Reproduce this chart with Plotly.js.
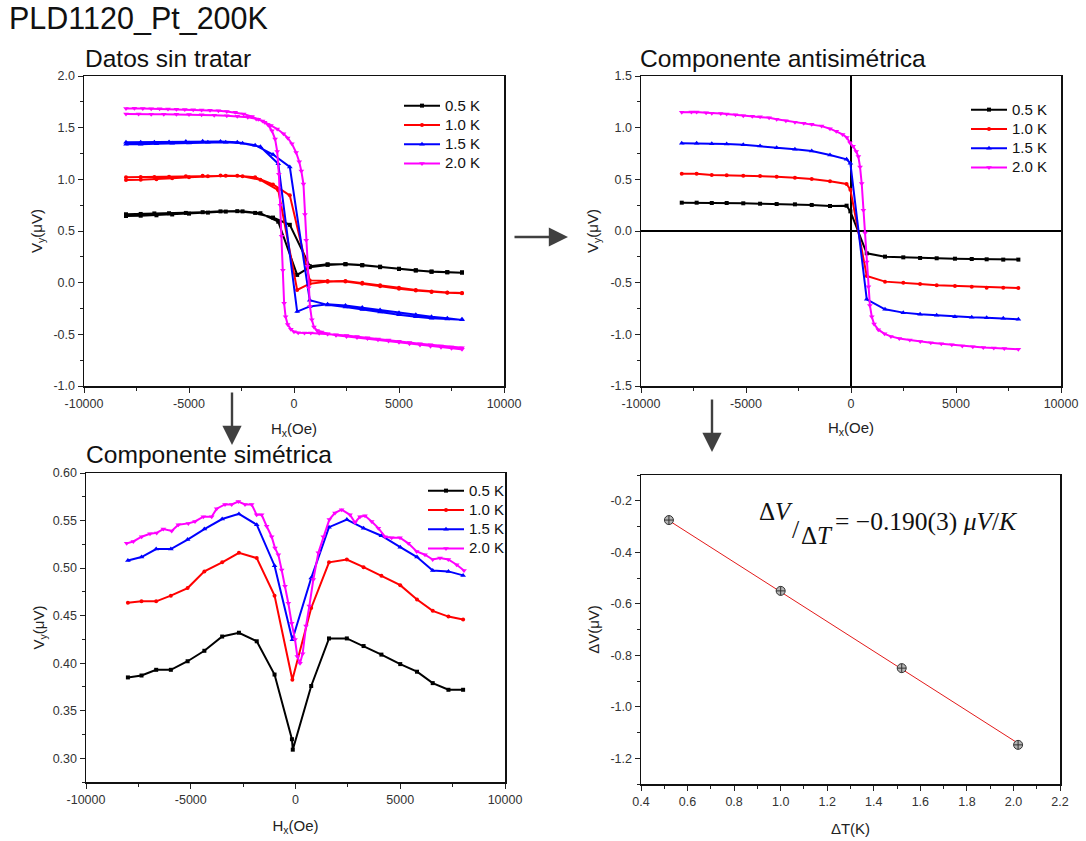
<!DOCTYPE html>
<html><head><meta charset="utf-8">
<script src="https://cdn.plot.ly/plotly-3.0.1.min.js"></script>
<style>html,body{margin:0;padding:0;background:#fff}#c{width:1086px;height:841px}</style>
</head><body><div id="c"></div>
<script>
// ---------- Data ----------
const seriesNames = ['0.5 K','1.0 K','1.5 K','2.0 K'];
// Raw data (Datos sin tratar): up sweep and down sweep
const rawUpX   = [-8000,-7300,-6650,-5950,-5150,-4350,-3500,-2700,-1850,-1000,-200,750,1600,2450,3250,4100,5000,5800,6550,7300,8000];
const rawDownX = [8000,7300,6550,5800,5000,4100,3250,2450,1600,750,150,-750,-1600,-2450,-3250,-4100,-5000,-5800,-6550,-7300,-8000];
const rawBlackUp   = [0.662,0.665,0.670,0.672,0.675,0.682,0.690,0.692,0.675,0.630,0.560,0.160,0.178,0.178,0.168,0.150,0.132,0.120,0.105,0.100,0.097];
const rawBlackDown = [0.100,0.102,0.108,0.118,0.135,0.155,0.170,0.180,0.172,0.150,0.075,0.590,0.672,0.690,0.688,0.678,0.668,0.660,0.652,0.648,0.645];
const rawRedUp     = [1.020,1.022,1.022,1.025,1.030,1.035,1.038,1.035,1.020,0.950,0.845,0.022,0.015,0.012,-0.010,-0.035,-0.060,-0.075,-0.090,-0.098,-0.103];
const rawRedDown   = [-0.100,-0.095,-0.085,-0.070,-0.050,-0.025,0.000,0.015,0.010,-0.010,-0.070,0.895,0.995,1.030,1.035,1.030,1.020,1.010,1.000,0.995,0.994];
const rawBlueUp    = [1.358,1.360,1.360,1.362,1.365,1.368,1.365,1.360,1.330,1.240,1.120,-0.170,-0.215,-0.235,-0.260,-0.285,-0.310,-0.330,-0.345,-0.352,-0.360];
const rawBlueDown  = [-0.355,-0.345,-0.330,-0.310,-0.290,-0.265,-0.240,-0.220,-0.210,-0.230,-0.280,1.150,1.315,1.350,1.360,1.358,1.352,1.348,1.345,1.340,1.339];
const rawMagUpX = [-8000,-7600,-7200,-6800,-6400,-6000,-5600,-5200,-4800,-4400,-4000,-3600,-3200,-2800,-2400,-2000,-1700,-1400,-1100,-800,-500,-300,-100,100,250,350,450,520,580,640,700,760,850,950,1100,1300,1600,2000,2500,3000,3500,4000,4500,5000,5500,6000,6500,7000,7500,8000];
const rawMagUpY = [1.685,1.688,1.686,1.684,1.682,1.680,1.678,1.676,1.674,1.671,1.668,1.664,1.657,1.648,1.632,1.607,1.582,1.553,1.522,1.487,1.442,1.400,1.345,1.260,1.170,1.080,0.955,0.660,0.410,0.160,-0.050,-0.230,-0.360,-0.430,-0.462,-0.478,-0.495,-0.508,-0.520,-0.530,-0.540,-0.553,-0.565,-0.577,-0.590,-0.603,-0.615,-0.625,-0.635,-0.645];
const rawMagDownX = [8000,7500,7000,6500,6000,5500,5000,4500,4000,3500,3000,2500,2000,1600,1200,800,500,200,0,-150,-300,-400,-470,-530,-590,-650,-720,-800,-900,-1050,-1250,-1500,-1800,-2200,-2700,-3200,-3800,-4400,-5000,-5600,-6200,-6800,-7400,-8000];
const rawMagDownY = [-0.630,-0.622,-0.612,-0.600,-0.590,-0.578,-0.566,-0.555,-0.545,-0.534,-0.522,-0.512,-0.503,-0.497,-0.490,-0.488,-0.487,-0.485,-0.475,-0.450,-0.405,-0.330,-0.200,0.120,0.450,0.750,1.050,1.270,1.390,1.470,1.530,1.565,1.585,1.600,1.610,1.615,1.620,1.624,1.627,1.629,1.630,1.631,1.632,1.632];

// Antisymmetric component
const antiX = [-8060,-7350,-6630,-5920,-5130,-4330,-3540,-2670,-1870,-1000,-210,-30,750,1620,2490,3290,4080,4950,5750,6460,7250,7970];
const antiBlack = [0.274,0.274,0.271,0.271,0.268,0.264,0.261,0.258,0.252,0.242,0.245,0.190,-0.216,-0.248,-0.255,-0.261,-0.264,-0.268,-0.271,-0.274,-0.277,-0.277];
const antiRed   = [0.555,0.555,0.542,0.539,0.535,0.532,0.526,0.516,0.503,0.481,0.455,0.400,-0.435,-0.490,-0.500,-0.513,-0.526,-0.532,-0.539,-0.548,-0.548,-0.552];
const antiBlue  = [0.848,0.848,0.845,0.842,0.835,0.823,0.806,0.790,0.774,0.735,0.694,0.655,-0.661,-0.758,-0.790,-0.806,-0.816,-0.829,-0.835,-0.839,-0.845,-0.855];
const antiMagX = [-8060,-7600,-7350,-6900,-6630,-6200,-5920,-5500,-5130,-4700,-4330,-3900,-3540,-3100,-2670,-2250,-1870,-1400,-1000,-700,-400,-200,-50,100,250,350,430,510,590,670,750,830,900,990,1100,1300,1600,1900,2300,2800,3300,3800,4300,4800,5300,5800,6300,6800,7300,7970];
const antiMagY = [1.148,1.152,1.152,1.145,1.139,1.136,1.132,1.124,1.116,1.110,1.106,1.095,1.081,1.068,1.052,1.042,1.032,1.015,0.990,0.965,0.935,0.905,0.855,0.820,0.770,0.720,0.620,0.460,0.200,-0.020,-0.300,-0.540,-0.720,-0.830,-0.900,-0.955,-0.995,-1.020,-1.040,-1.055,-1.070,-1.082,-1.092,-1.102,-1.112,-1.120,-1.127,-1.133,-1.138,-1.145];

// Symmetric component
const symBlackX = [-8000,-7350,-6650,-5950,-5150,-4350,-3500,-2700,-1850,-1000,-170,-130,750,1600,2450,3250,4100,5000,5800,6550,7300,8000];
const symBlack  = [0.385,0.387,0.393,0.393,0.402,0.413,0.428,0.432,0.423,0.388,0.320,0.309,0.376,0.426,0.426,0.418,0.409,0.399,0.391,0.379,0.372,0.372];
const symX = [-8000,-7350,-6650,-5950,-5150,-4350,-3500,-2700,-1850,-1000,-150,750,1600,2450,3250,4100,5000,5800,6550,7300,8000];
const symRed  = [0.4635,0.465,0.465,0.471,0.479,0.4965,0.506,0.516,0.5105,0.471,0.3825,0.458,0.506,0.509,0.501,0.492,0.482,0.467,0.455,0.449,0.446];
const symBlue = [0.508,0.5116,0.520,0.520,0.530,0.541,0.5516,0.557,0.5456,0.5025,0.4246,0.4895,0.543,0.551,0.542,0.534,0.522,0.5116,0.4975,0.4965,0.4923];
const symMagX = [-8058,-7740,-7343,-6945,-6626,-6308,-5910,-5592,-5115,-4797,-4399,-4001,-3763,-3365,-3047,-2728,-2410,-2092,-1854,-1615,-1376,-1137,-978,-819,-660,-501,-342,-183,-24,88,215,342,501,660,851,1090,1328,1615,1885,2203,2601,2840,3079,3317,3635,3954,4272,4590,4988,5386,5784,6181,6547,6897,7295,7692,8042];
const symMag  = [0.526,0.528,0.533,0.536,0.537,0.541,0.539,0.5456,0.547,0.549,0.554,0.554,0.5625,0.567,0.567,0.570,0.567,0.567,0.556,0.556,0.544,0.533,0.521,0.514,0.498,0.481,0.463,0.442,0.425,0.407,0.400,0.410,0.439,0.460,0.488,0.516,0.533,0.551,0.558,0.5614,0.556,0.548,0.554,0.555,0.549,0.542,0.533,0.532,0.532,0.526,0.5175,0.514,0.509,0.5105,0.509,0.5035,0.4975];

// Delta V vs Delta T
const dT = [0.52, 1.00, 1.52, 2.02];
const dV = [-0.275, -0.550, -0.850, -1.148];
const fitT = [0.52, 2.02];
const fitV = [-0.277, -1.142];

// Tick values and labels
const hTicks = [-10000, -5000, 0, 5000, 10000];
const hTickText = ['-10000', '-5000', '0', '5000', '10000'];
const rawVTicks = [-1, -0.5, 0, 0.5, 1, 1.5, 2];
const rawVTickText = ['-1.0', '-0.5', '0.0', '0.5', '1.0', '1.5', '2.0'];
const antiVTicks = [-1.5, -1, -0.5, 0, 0.5, 1, 1.5];
const antiVTickText = ['-1.5', '-1.0', '-0.5', '0.0', '0.5', '1.0', '1.5'];
const symVTicks = [0.30, 0.35, 0.40, 0.45, 0.50, 0.55, 0.60];
const symVTickText = ['0.30', '0.35', '0.40', '0.45', '0.50', '0.55', '0.60'];
const dTTicks = [0.4, 0.6, 0.8, 1.0, 1.2, 1.4, 1.6, 1.8, 2.0, 2.2];
const dTTickText = ['0.4', '0.6', '0.8', '1.0', '1.2', '1.4', '1.6', '1.8', '2.0', '2.2'];
const dVTicks = [-1.2, -1.0, -0.8, -0.6, -0.4, -0.2];
const dVTickText = ['-1.2', '-1.0', '-0.8', '-0.6', '-0.4', '-0.2'];

// ---------- Styles ----------
const F = '"Liberation Sans", Arial, sans-serif';
const colors = ['#000000','#ff0000','#0000ff','#ff00ff'];
const symbols = ['square','circle','triangle-up','triangle-down'];
const msize = [4,4,5,5];

function tr(x, y, i, xa, ya, leg) {
  return {x: x, y: y, type: 'scatter', mode: 'lines+markers',
    name: '<span style="font-size:15px">' + seriesNames[i] + '</span>',
    xaxis: xa, yaxis: ya, legend: leg, showlegend: true,
    line: {color: colors[i], width: 2},
    marker: {color: colors[i], symbol: symbols[i], size: msize[i]}};
}
const traces = [
  tr(rawUpX.concat(rawDownX), rawBlackUp.concat(rawBlackDown), 0, 'x', 'y', 'legend'),
  tr(rawUpX.concat(rawDownX), rawRedUp.concat(rawRedDown), 1, 'x', 'y', 'legend'),
  tr(rawUpX.concat(rawDownX), rawBlueUp.concat(rawBlueDown), 2, 'x', 'y', 'legend'),
  tr(rawMagUpX.concat(rawMagDownX), rawMagUpY.concat(rawMagDownY), 3, 'x', 'y', 'legend'),
  tr(antiX, antiBlack, 0, 'x2', 'y2', 'legend2'),
  tr(antiX, antiRed, 1, 'x2', 'y2', 'legend2'),
  tr(antiX, antiBlue, 2, 'x2', 'y2', 'legend2'),
  tr(antiMagX, antiMagY, 3, 'x2', 'y2', 'legend2'),
  tr(symBlackX, symBlack, 0, 'x3', 'y3', 'legend3'),
  tr(symX, symRed, 1, 'x3', 'y3', 'legend3'),
  tr(symX, symBlue, 2, 'x3', 'y3', 'legend3'),
  tr(symMagX, symMag, 3, 'x3', 'y3', 'legend3'),
  {x: fitT, y: fitV, type: 'scatter', mode: 'lines', xaxis: 'x4', yaxis: 'y4', showlegend: false,
   line: {color: '#e31a1a', width: 1}},
  {x: dT, y: dV, type: 'scatter', mode: 'markers', xaxis: 'x4', yaxis: 'y4', showlegend: false,
   marker: {symbol: 'circle-cross', size: 9, color: '#b4b4b4', line: {color: '#333333', width: 1}}}
];

function ax(domain, range, tv, tt, minorD, anchor, title, standoff, zero) {
  return {domain: domain, range: range, tickmode: 'array', tickvals: tv, ticktext: tt, anchor: anchor,
    ticks: 'outside', ticklen: 5, tickwidth: 1, tickcolor: '#222',
    minor: {tickmode: 'linear', tick0: 0, dtick: minorD, ticks: 'outside', ticklen: 3, tickwidth: 1, tickcolor: '#222', showgrid: false},
    showline: true, mirror: true, linecolor: '#111', linewidth: 1.5,
    showgrid: false, zeroline: !!zero, zerolinecolor: '#000', zerolinewidth: 1.3,
    tickfont: {family: F, size: 12.5, color: '#333'},
    title: {text: title, standoff: standoff, font: {family: F, size: 15, color: '#222'}},
    automargin: false, fixedrange: true};
}
const P = (px) => px / 1086, Q = (py) => 1 - py / 841;

const legendBase = {font: {family: F, size: 12.5, color: '#111'}, bgcolor: 'rgba(0,0,0,0)',
  borderwidth: 0, xanchor: 'left', yanchor: 'top', tracegroupgap: 0, itemwidth: 36};

function arrow(x0, y0, x1, y1) {
  return {xref: 'paper', yref: 'paper', x: P(x1), y: Q(y1), ax: x0 - x1, ay: y0 - y1,
    axref: 'pixel', ayref: 'pixel', text: '', showarrow: true, arrowhead: 2, arrowsize: 1.6,
    arrowwidth: 2.4, arrowcolor: '#404040', standoff: 0};
}
function label(text, x, y, size, opts) {
  return Object.assign({xref: 'paper', yref: 'paper', x: P(x), y: Q(y), xanchor: 'left', yanchor: 'middle',
    text: text, showarrow: false, font: {family: F, size: size, color: '#111'}}, opts || {});
}
const SERIF = '"Liberation Serif", "DejaVu Serif", serif';
const serifFont = (s) => ({font: {family: SERIF, size: s, color: '#111'}, borderpad: 0});

const layout = {
  width: 1086, height: 841, margin: {l: 0, r: 0, t: 0, b: 0},
  paper_bgcolor: '#ffffff', plot_bgcolor: '#ffffff',
  font: {family: F, size: 12, color: '#222'},
  xaxis:  ax([P(84), P(504)], [-10000, 10000], hTicks, hTickText, 2500, 'y', 'H<sub>x</sub>(Oe)', 14),
  yaxis:  ax([Q(386), Q(76)], [-1, 2], rawVTicks, rawVTickText, 0.25, 'x', 'V<sub>y</sub>(μV)', 7),
  xaxis2: ax([P(641), P(1061)], [-10000, 10000], hTicks, hTickText, 2500, 'y2', 'H<sub>x</sub>(Oe)', 13, true),
  yaxis2: ax([Q(386), Q(76)], [-1.5, 1.5], antiVTicks, antiVTickText, 0.25, 'x2', 'V<sub>y</sub>(μV)', 8, true),
  xaxis3: ax([P(86), P(505)], [-10000, 10000], hTicks, hTickText, 2500, 'y3', 'H<sub>x</sub>(Oe)', 15),
  yaxis3: ax([Q(782), Q(473)], [0.275, 0.6], symVTicks, symVTickText, 0.025, 'x3', 'V<sub>y</sub>(μV)', 4),
  xaxis4: ax([P(641), P(1060)], [0.4, 2.2], dTTicks, dTTickText, 0.1, 'y4', 'ΔT(K)', 16),
  yaxis4: ax([Q(784), Q(475)], [-1.3, -0.1], dVTicks, dVTickText, 0.1, 'x4', 'ΔV(μV)', 7),
  legend:  Object.assign({}, legendBase, {x: P(399), y: Q(91)}),
  legend2: Object.assign({}, legendBase, {x: P(966), y: Q(95)}),
  legend3: Object.assign({}, legendBase, {x: P(423), y: Q(476)}),
  annotations: [
    label('PLD1120_Pt_200K', 7, 18, 30.5),
    label('Datos sin tratar', 83, 58, 24.5),
    label('Componente antisimétrica', 638, 59, 24.6),
    label('Componente simétrica', 84, 455, 24.6),
    arrow(513, 237, 568, 237),
    arrow(232, 391, 232, 445),
    arrow(712, 398, 712, 452),
    label('Δ<i>V</i>', 758, 512, 25, serifFont(25)),
    label('/', 791, 529, 26, serifFont(26)),
    label('Δ<i>T</i>', 800, 535, 25, serifFont(25)),
    label('= −0.190(3) <i>μV</i>/<i>K</i>', 834, 521, 25.5, serifFont(25.5))
  ]
};

Plotly.newPlot('c', traces, layout, {staticPlot: true, displayModeBar: false});
</script>
</body></html>
